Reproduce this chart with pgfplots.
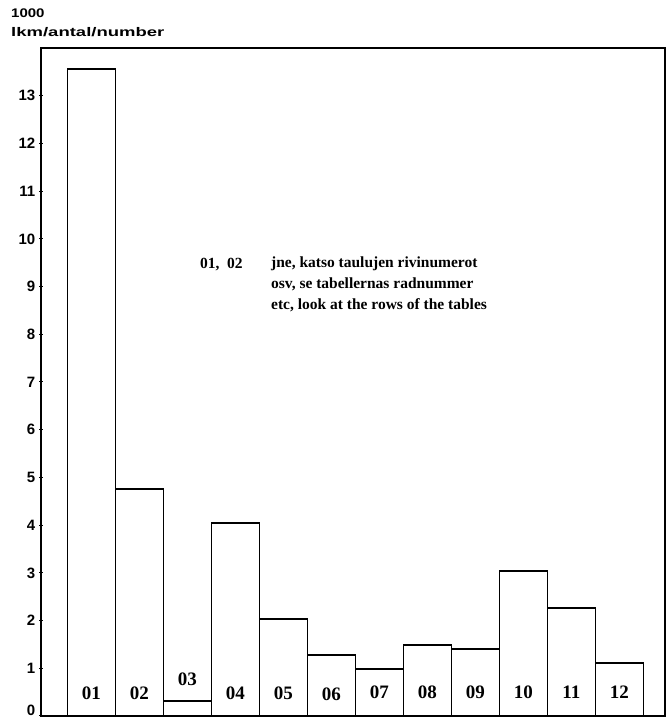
\documentclass[border=0pt]{standalone}
\usepackage{fontspec}
\setmainfont{Liberation Serif}
\newfontfamily\hsans{Liberation Sans}
\usepackage{graphicx}
\usepackage{pgfplots}
\pgfplotsset{compat=1.18}
\pgfplotstableread{
x y lab
1 0.47 01
2 0.47 02
3 0.78 03
4 0.47 04
5 0.47 05
6 0.45 06
7 0.49 07
8 0.50 08
9 0.50 09
10 0.50 10
11 0.50 11
12 0.50 12
}\barlabels
\begin{document}
\begin{tikzpicture}
\begin{axis}[
 at={(41pt,2pt)}, anchor=south west,
 scale only axis, width=624pt, height=668pt,
 xmin=-0.05, xmax=12.95, ymin=0, ymax=14,
 xtick=\empty, ytick={1,...,13},
 extra y ticks={0},
 extra y tick style={yticklabel style={anchor=south east, yshift=0.5pt}},
 axis line style={line width=1.5pt},
 major tick length=3pt, tick align=center, tick style={line width=1pt, black},
 /pgf/number format/assume math mode=true,
 yticklabel style={font=\hsans\bfseries\fontsize{15}{15}\selectfont, anchor=east, inner sep=0pt, xshift=-4pt},
 clip=false,
]
\addplot[ybar, bar width=1, fill=white, draw=black, line width=1.5pt] coordinates {(1,13.56) (2,4.76) (3,0.31) (4,4.05) (5,2.03) (6,1.28) (7,0.98) (8,1.49) (9,1.40) (10,3.04) (11,2.26) (12,1.11)};
\addplot[draw=none, mark=none, nodes near coords, point meta=explicit symbolic,
  nodes near coords style={anchor=center, font=\bfseries\fontsize{19}{19}\selectfont, inner sep=0pt}]
  table[x=x, y=y, meta=lab] {\barlabels};
\node[anchor=base west, inner sep=0pt, font=\bfseries\fontsize{15.5}{21}\selectfont] at (axis cs:3.26,9.37) {01,\ \ 02};
\node[anchor=north west, inner sep=0pt, align=left, font=\bfseries\fontsize{15.5}{21}\selectfont] at (axis cs:4.74,9.63) {jne, katso taulujen rivinumerot\\osv, se tabellernas radnummer\\etc, look at the rows of the tables};
\end{axis}
\node[anchor=base west, inner sep=0pt] at (11pt,700pt) {\scalebox{1.2}[1]{\hsans\bfseries\fontsize{12.5}{14}\selectfont 1000}};
\node[anchor=base west, inner sep=0pt] at (11pt,681pt) {\scalebox{1.48}[1]{\hsans\bfseries\fontsize{12.5}{14}\selectfont lkm/antal/number}};
\pgfresetboundingbox
\path[use as bounding box] (0,0) rectangle (666pt,718pt);
\end{tikzpicture}
\end{document}
